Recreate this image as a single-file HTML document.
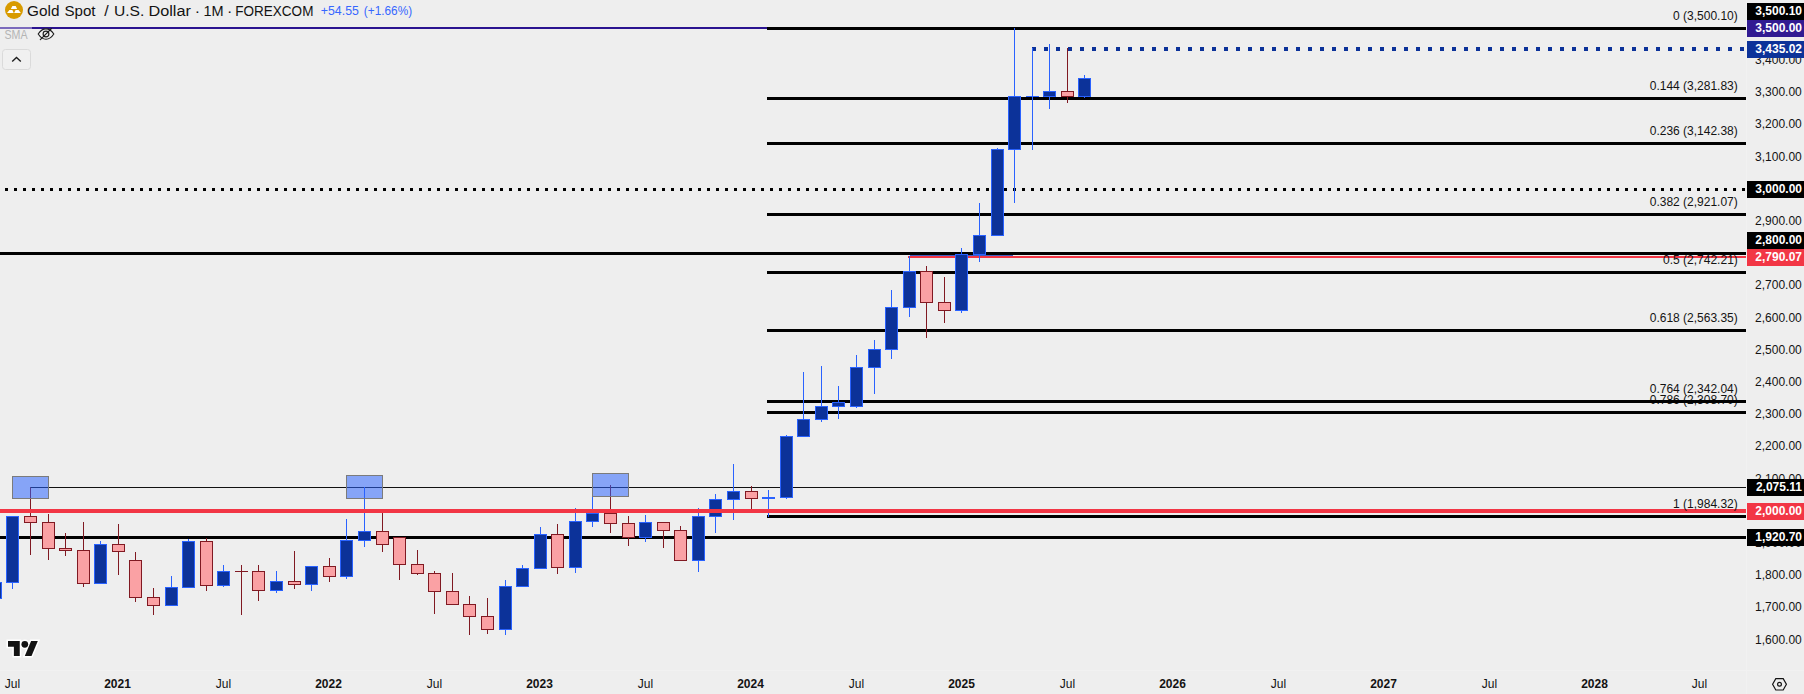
<!DOCTYPE html><html><head><meta charset="utf-8"><title>Gold Spot / U.S. Dollar</title>
<style>html,body{margin:0;padding:0;background:#eeeeee;overflow:hidden}
body{width:1804px;height:694px;position:relative;font-family:"Liberation Sans",sans-serif}
svg{position:absolute;left:0;top:0;display:block}
text{font-family:"Liberation Sans",sans-serif}
</style></head><body>
<svg width="1804" height="694" viewBox="0 0 1804 694">
<rect x="0" y="0" width="1804" height="694" fill="#eeeeee"/>
<g shape-rendering="crispEdges">
<rect x="0" y="27" width="767" height="2" fill="#2a1390"/>
<rect x="0" y="27" width="32" height="2" fill="#7c6bbd"/>
<rect x="767" y="27" width="979" height="3" fill="#000"/>
<rect x="767" y="97" width="979" height="3" fill="#000"/>
<rect x="767" y="142" width="979" height="3" fill="#000"/>
<rect x="767" y="213" width="979" height="3" fill="#000"/>
<rect x="767" y="271" width="979" height="3" fill="#000"/>
<rect x="767" y="329" width="979" height="3" fill="#000"/>
<rect x="767" y="400" width="979" height="3" fill="#000"/>
<rect x="767" y="411" width="979" height="3" fill="#000"/>
<rect x="767" y="515" width="979" height="3" fill="#000"/>
<rect x="5" y="188" width="3" height="3" fill="#000"/>
<rect x="14" y="188" width="3" height="3" fill="#000"/>
<rect x="23" y="188" width="3" height="3" fill="#000"/>
<rect x="32" y="188" width="3" height="3" fill="#000"/>
<rect x="41" y="188" width="3" height="3" fill="#000"/>
<rect x="50" y="188" width="3" height="3" fill="#000"/>
<rect x="59" y="188" width="3" height="3" fill="#000"/>
<rect x="68" y="188" width="3" height="3" fill="#000"/>
<rect x="77" y="188" width="3" height="3" fill="#000"/>
<rect x="86" y="188" width="3" height="3" fill="#000"/>
<rect x="95" y="188" width="3" height="3" fill="#000"/>
<rect x="104" y="188" width="3" height="3" fill="#000"/>
<rect x="113" y="188" width="3" height="3" fill="#000"/>
<rect x="122" y="188" width="3" height="3" fill="#000"/>
<rect x="131" y="188" width="3" height="3" fill="#000"/>
<rect x="140" y="188" width="3" height="3" fill="#000"/>
<rect x="149" y="188" width="3" height="3" fill="#000"/>
<rect x="158" y="188" width="3" height="3" fill="#000"/>
<rect x="167" y="188" width="3" height="3" fill="#000"/>
<rect x="176" y="188" width="3" height="3" fill="#000"/>
<rect x="185" y="188" width="3" height="3" fill="#000"/>
<rect x="194" y="188" width="3" height="3" fill="#000"/>
<rect x="203" y="188" width="3" height="3" fill="#000"/>
<rect x="212" y="188" width="3" height="3" fill="#000"/>
<rect x="221" y="188" width="3" height="3" fill="#000"/>
<rect x="230" y="188" width="3" height="3" fill="#000"/>
<rect x="239" y="188" width="3" height="3" fill="#000"/>
<rect x="248" y="188" width="3" height="3" fill="#000"/>
<rect x="257" y="188" width="3" height="3" fill="#000"/>
<rect x="266" y="188" width="3" height="3" fill="#000"/>
<rect x="275" y="188" width="3" height="3" fill="#000"/>
<rect x="284" y="188" width="3" height="3" fill="#000"/>
<rect x="293" y="188" width="3" height="3" fill="#000"/>
<rect x="302" y="188" width="3" height="3" fill="#000"/>
<rect x="311" y="188" width="3" height="3" fill="#000"/>
<rect x="320" y="188" width="3" height="3" fill="#000"/>
<rect x="329" y="188" width="3" height="3" fill="#000"/>
<rect x="338" y="188" width="3" height="3" fill="#000"/>
<rect x="347" y="188" width="3" height="3" fill="#000"/>
<rect x="356" y="188" width="3" height="3" fill="#000"/>
<rect x="365" y="188" width="3" height="3" fill="#000"/>
<rect x="374" y="188" width="3" height="3" fill="#000"/>
<rect x="383" y="188" width="3" height="3" fill="#000"/>
<rect x="392" y="188" width="3" height="3" fill="#000"/>
<rect x="401" y="188" width="3" height="3" fill="#000"/>
<rect x="410" y="188" width="3" height="3" fill="#000"/>
<rect x="419" y="188" width="3" height="3" fill="#000"/>
<rect x="428" y="188" width="3" height="3" fill="#000"/>
<rect x="437" y="188" width="3" height="3" fill="#000"/>
<rect x="446" y="188" width="3" height="3" fill="#000"/>
<rect x="455" y="188" width="3" height="3" fill="#000"/>
<rect x="464" y="188" width="3" height="3" fill="#000"/>
<rect x="473" y="188" width="3" height="3" fill="#000"/>
<rect x="482" y="188" width="3" height="3" fill="#000"/>
<rect x="491" y="188" width="3" height="3" fill="#000"/>
<rect x="500" y="188" width="3" height="3" fill="#000"/>
<rect x="509" y="188" width="3" height="3" fill="#000"/>
<rect x="518" y="188" width="3" height="3" fill="#000"/>
<rect x="527" y="188" width="3" height="3" fill="#000"/>
<rect x="536" y="188" width="3" height="3" fill="#000"/>
<rect x="545" y="188" width="3" height="3" fill="#000"/>
<rect x="554" y="188" width="3" height="3" fill="#000"/>
<rect x="563" y="188" width="3" height="3" fill="#000"/>
<rect x="572" y="188" width="3" height="3" fill="#000"/>
<rect x="581" y="188" width="3" height="3" fill="#000"/>
<rect x="590" y="188" width="3" height="3" fill="#000"/>
<rect x="599" y="188" width="3" height="3" fill="#000"/>
<rect x="608" y="188" width="3" height="3" fill="#000"/>
<rect x="617" y="188" width="3" height="3" fill="#000"/>
<rect x="626" y="188" width="3" height="3" fill="#000"/>
<rect x="635" y="188" width="3" height="3" fill="#000"/>
<rect x="644" y="188" width="3" height="3" fill="#000"/>
<rect x="653" y="188" width="3" height="3" fill="#000"/>
<rect x="662" y="188" width="3" height="3" fill="#000"/>
<rect x="671" y="188" width="3" height="3" fill="#000"/>
<rect x="680" y="188" width="3" height="3" fill="#000"/>
<rect x="689" y="188" width="3" height="3" fill="#000"/>
<rect x="698" y="188" width="3" height="3" fill="#000"/>
<rect x="707" y="188" width="3" height="3" fill="#000"/>
<rect x="716" y="188" width="3" height="3" fill="#000"/>
<rect x="725" y="188" width="3" height="3" fill="#000"/>
<rect x="734" y="188" width="3" height="3" fill="#000"/>
<rect x="743" y="188" width="3" height="3" fill="#000"/>
<rect x="752" y="188" width="3" height="3" fill="#000"/>
<rect x="761" y="188" width="3" height="3" fill="#000"/>
<rect x="770" y="188" width="3" height="3" fill="#000"/>
<rect x="779" y="188" width="3" height="3" fill="#000"/>
<rect x="788" y="188" width="3" height="3" fill="#000"/>
<rect x="797" y="188" width="3" height="3" fill="#000"/>
<rect x="806" y="188" width="3" height="3" fill="#000"/>
<rect x="815" y="188" width="3" height="3" fill="#000"/>
<rect x="824" y="188" width="3" height="3" fill="#000"/>
<rect x="833" y="188" width="3" height="3" fill="#000"/>
<rect x="842" y="188" width="3" height="3" fill="#000"/>
<rect x="851" y="188" width="3" height="3" fill="#000"/>
<rect x="860" y="188" width="3" height="3" fill="#000"/>
<rect x="869" y="188" width="3" height="3" fill="#000"/>
<rect x="878" y="188" width="3" height="3" fill="#000"/>
<rect x="887" y="188" width="3" height="3" fill="#000"/>
<rect x="896" y="188" width="3" height="3" fill="#000"/>
<rect x="905" y="188" width="3" height="3" fill="#000"/>
<rect x="914" y="188" width="3" height="3" fill="#000"/>
<rect x="923" y="188" width="3" height="3" fill="#000"/>
<rect x="932" y="188" width="3" height="3" fill="#000"/>
<rect x="941" y="188" width="3" height="3" fill="#000"/>
<rect x="950" y="188" width="3" height="3" fill="#000"/>
<rect x="959" y="188" width="3" height="3" fill="#000"/>
<rect x="968" y="188" width="3" height="3" fill="#000"/>
<rect x="977" y="188" width="3" height="3" fill="#000"/>
<rect x="986" y="188" width="3" height="3" fill="#000"/>
<rect x="995" y="188" width="3" height="3" fill="#000"/>
<rect x="1004" y="188" width="3" height="3" fill="#000"/>
<rect x="1013" y="188" width="3" height="3" fill="#000"/>
<rect x="1022" y="188" width="3" height="3" fill="#000"/>
<rect x="1031" y="188" width="3" height="3" fill="#000"/>
<rect x="1040" y="188" width="3" height="3" fill="#000"/>
<rect x="1049" y="188" width="3" height="3" fill="#000"/>
<rect x="1058" y="188" width="3" height="3" fill="#000"/>
<rect x="1067" y="188" width="3" height="3" fill="#000"/>
<rect x="1076" y="188" width="3" height="3" fill="#000"/>
<rect x="1085" y="188" width="3" height="3" fill="#000"/>
<rect x="1094" y="188" width="3" height="3" fill="#000"/>
<rect x="1103" y="188" width="3" height="3" fill="#000"/>
<rect x="1112" y="188" width="3" height="3" fill="#000"/>
<rect x="1121" y="188" width="3" height="3" fill="#000"/>
<rect x="1130" y="188" width="3" height="3" fill="#000"/>
<rect x="1139" y="188" width="3" height="3" fill="#000"/>
<rect x="1148" y="188" width="3" height="3" fill="#000"/>
<rect x="1157" y="188" width="3" height="3" fill="#000"/>
<rect x="1166" y="188" width="3" height="3" fill="#000"/>
<rect x="1175" y="188" width="3" height="3" fill="#000"/>
<rect x="1184" y="188" width="3" height="3" fill="#000"/>
<rect x="1193" y="188" width="3" height="3" fill="#000"/>
<rect x="1202" y="188" width="3" height="3" fill="#000"/>
<rect x="1211" y="188" width="3" height="3" fill="#000"/>
<rect x="1220" y="188" width="3" height="3" fill="#000"/>
<rect x="1229" y="188" width="3" height="3" fill="#000"/>
<rect x="1238" y="188" width="3" height="3" fill="#000"/>
<rect x="1247" y="188" width="3" height="3" fill="#000"/>
<rect x="1256" y="188" width="3" height="3" fill="#000"/>
<rect x="1265" y="188" width="3" height="3" fill="#000"/>
<rect x="1274" y="188" width="3" height="3" fill="#000"/>
<rect x="1283" y="188" width="3" height="3" fill="#000"/>
<rect x="1292" y="188" width="3" height="3" fill="#000"/>
<rect x="1301" y="188" width="3" height="3" fill="#000"/>
<rect x="1310" y="188" width="3" height="3" fill="#000"/>
<rect x="1319" y="188" width="3" height="3" fill="#000"/>
<rect x="1328" y="188" width="3" height="3" fill="#000"/>
<rect x="1337" y="188" width="3" height="3" fill="#000"/>
<rect x="1346" y="188" width="3" height="3" fill="#000"/>
<rect x="1355" y="188" width="3" height="3" fill="#000"/>
<rect x="1364" y="188" width="3" height="3" fill="#000"/>
<rect x="1373" y="188" width="3" height="3" fill="#000"/>
<rect x="1382" y="188" width="3" height="3" fill="#000"/>
<rect x="1391" y="188" width="3" height="3" fill="#000"/>
<rect x="1400" y="188" width="3" height="3" fill="#000"/>
<rect x="1409" y="188" width="3" height="3" fill="#000"/>
<rect x="1418" y="188" width="3" height="3" fill="#000"/>
<rect x="1427" y="188" width="3" height="3" fill="#000"/>
<rect x="1436" y="188" width="3" height="3" fill="#000"/>
<rect x="1445" y="188" width="3" height="3" fill="#000"/>
<rect x="1454" y="188" width="3" height="3" fill="#000"/>
<rect x="1463" y="188" width="3" height="3" fill="#000"/>
<rect x="1472" y="188" width="3" height="3" fill="#000"/>
<rect x="1481" y="188" width="3" height="3" fill="#000"/>
<rect x="1490" y="188" width="3" height="3" fill="#000"/>
<rect x="1499" y="188" width="3" height="3" fill="#000"/>
<rect x="1508" y="188" width="3" height="3" fill="#000"/>
<rect x="1517" y="188" width="3" height="3" fill="#000"/>
<rect x="1526" y="188" width="3" height="3" fill="#000"/>
<rect x="1535" y="188" width="3" height="3" fill="#000"/>
<rect x="1544" y="188" width="3" height="3" fill="#000"/>
<rect x="1553" y="188" width="3" height="3" fill="#000"/>
<rect x="1562" y="188" width="3" height="3" fill="#000"/>
<rect x="1571" y="188" width="3" height="3" fill="#000"/>
<rect x="1580" y="188" width="3" height="3" fill="#000"/>
<rect x="1589" y="188" width="3" height="3" fill="#000"/>
<rect x="1598" y="188" width="3" height="3" fill="#000"/>
<rect x="1607" y="188" width="3" height="3" fill="#000"/>
<rect x="1616" y="188" width="3" height="3" fill="#000"/>
<rect x="1625" y="188" width="3" height="3" fill="#000"/>
<rect x="1634" y="188" width="3" height="3" fill="#000"/>
<rect x="1643" y="188" width="3" height="3" fill="#000"/>
<rect x="1652" y="188" width="3" height="3" fill="#000"/>
<rect x="1661" y="188" width="3" height="3" fill="#000"/>
<rect x="1670" y="188" width="3" height="3" fill="#000"/>
<rect x="1679" y="188" width="3" height="3" fill="#000"/>
<rect x="1688" y="188" width="3" height="3" fill="#000"/>
<rect x="1697" y="188" width="3" height="3" fill="#000"/>
<rect x="1706" y="188" width="3" height="3" fill="#000"/>
<rect x="1715" y="188" width="3" height="3" fill="#000"/>
<rect x="1724" y="188" width="3" height="3" fill="#000"/>
<rect x="1733" y="188" width="3" height="3" fill="#000"/>
<rect x="1742" y="188" width="3" height="3" fill="#000"/>
<rect x="0" y="252" width="1746" height="3" fill="#000"/>
<rect x="0" y="536" width="1746" height="3" fill="#000"/>
<rect x="30" y="487" width="1716" height="1" fill="#111"/>
<rect x="908" y="256" width="838" height="2" fill="#f23645"/>
<rect x="910" y="255" width="103" height="1" fill="#3f5fc4"/>
<rect x="1032" y="47" width="4" height="4" fill="#0c3299"/>
<rect x="1044" y="47" width="4" height="4" fill="#0c3299"/>
<rect x="1056" y="47" width="4" height="4" fill="#0c3299"/>
<rect x="1068" y="47" width="4" height="4" fill="#0c3299"/>
<rect x="1080" y="47" width="4" height="4" fill="#0c3299"/>
<rect x="1092" y="47" width="4" height="4" fill="#0c3299"/>
<rect x="1104" y="47" width="4" height="4" fill="#0c3299"/>
<rect x="1116" y="47" width="4" height="4" fill="#0c3299"/>
<rect x="1128" y="47" width="4" height="4" fill="#0c3299"/>
<rect x="1140" y="47" width="4" height="4" fill="#0c3299"/>
<rect x="1152" y="47" width="4" height="4" fill="#0c3299"/>
<rect x="1164" y="47" width="4" height="4" fill="#0c3299"/>
<rect x="1176" y="47" width="4" height="4" fill="#0c3299"/>
<rect x="1188" y="47" width="4" height="4" fill="#0c3299"/>
<rect x="1200" y="47" width="4" height="4" fill="#0c3299"/>
<rect x="1212" y="47" width="4" height="4" fill="#0c3299"/>
<rect x="1224" y="47" width="4" height="4" fill="#0c3299"/>
<rect x="1236" y="47" width="4" height="4" fill="#0c3299"/>
<rect x="1248" y="47" width="4" height="4" fill="#0c3299"/>
<rect x="1260" y="47" width="4" height="4" fill="#0c3299"/>
<rect x="1272" y="47" width="4" height="4" fill="#0c3299"/>
<rect x="1284" y="47" width="4" height="4" fill="#0c3299"/>
<rect x="1296" y="47" width="4" height="4" fill="#0c3299"/>
<rect x="1308" y="47" width="4" height="4" fill="#0c3299"/>
<rect x="1320" y="47" width="4" height="4" fill="#0c3299"/>
<rect x="1332" y="47" width="4" height="4" fill="#0c3299"/>
<rect x="1344" y="47" width="4" height="4" fill="#0c3299"/>
<rect x="1356" y="47" width="4" height="4" fill="#0c3299"/>
<rect x="1368" y="47" width="4" height="4" fill="#0c3299"/>
<rect x="1380" y="47" width="4" height="4" fill="#0c3299"/>
<rect x="1392" y="47" width="4" height="4" fill="#0c3299"/>
<rect x="1404" y="47" width="4" height="4" fill="#0c3299"/>
<rect x="1416" y="47" width="4" height="4" fill="#0c3299"/>
<rect x="1428" y="47" width="4" height="4" fill="#0c3299"/>
<rect x="1440" y="47" width="4" height="4" fill="#0c3299"/>
<rect x="1452" y="47" width="4" height="4" fill="#0c3299"/>
<rect x="1464" y="47" width="4" height="4" fill="#0c3299"/>
<rect x="1476" y="47" width="4" height="4" fill="#0c3299"/>
<rect x="1488" y="47" width="4" height="4" fill="#0c3299"/>
<rect x="1500" y="47" width="4" height="4" fill="#0c3299"/>
<rect x="1512" y="47" width="4" height="4" fill="#0c3299"/>
<rect x="1524" y="47" width="4" height="4" fill="#0c3299"/>
<rect x="1536" y="47" width="4" height="4" fill="#0c3299"/>
<rect x="1548" y="47" width="4" height="4" fill="#0c3299"/>
<rect x="1560" y="47" width="4" height="4" fill="#0c3299"/>
<rect x="1572" y="47" width="4" height="4" fill="#0c3299"/>
<rect x="1584" y="47" width="4" height="4" fill="#0c3299"/>
<rect x="1596" y="47" width="4" height="4" fill="#0c3299"/>
<rect x="1608" y="47" width="4" height="4" fill="#0c3299"/>
<rect x="1620" y="47" width="4" height="4" fill="#0c3299"/>
<rect x="1632" y="47" width="4" height="4" fill="#0c3299"/>
<rect x="1644" y="47" width="4" height="4" fill="#0c3299"/>
<rect x="1656" y="47" width="4" height="4" fill="#0c3299"/>
<rect x="1668" y="47" width="4" height="4" fill="#0c3299"/>
<rect x="1680" y="47" width="4" height="4" fill="#0c3299"/>
<rect x="1692" y="47" width="4" height="4" fill="#0c3299"/>
<rect x="1704" y="47" width="4" height="4" fill="#0c3299"/>
<rect x="1716" y="47" width="4" height="4" fill="#0c3299"/>
<rect x="1728" y="47" width="4" height="4" fill="#0c3299"/>
<rect x="1740" y="47" width="4" height="4" fill="#0c3299"/>
<rect x="-5" y="582" width="1" height="17" fill="#2962ff"/>
<rect x="-11" y="582" width="13" height="17" fill="#2962ff"/>
<rect x="-10" y="583" width="11" height="15" fill="#0c3299"/>
<rect x="12" y="516" width="1" height="73" fill="#2962ff"/>
<rect x="6" y="516" width="13" height="67" fill="#2962ff"/>
<rect x="7" y="517" width="11" height="65" fill="#0c3299"/>
<rect x="30" y="487" width="1" height="68" fill="#801922"/>
<rect x="24" y="516" width="13" height="7" fill="#801922"/>
<rect x="25" y="517" width="11" height="5" fill="#faa1a4"/>
<rect x="48" y="514" width="1" height="46" fill="#801922"/>
<rect x="42" y="522" width="13" height="27" fill="#801922"/>
<rect x="43" y="523" width="11" height="25" fill="#faa1a4"/>
<rect x="65" y="533" width="1" height="23" fill="#801922"/>
<rect x="59" y="548" width="13" height="3" fill="#801922"/>
<rect x="60" y="549" width="11" height="1" fill="#faa1a4"/>
<rect x="83" y="522" width="1" height="65" fill="#801922"/>
<rect x="77" y="550" width="13" height="34" fill="#801922"/>
<rect x="78" y="551" width="11" height="32" fill="#faa1a4"/>
<rect x="100" y="541" width="1" height="43" fill="#2962ff"/>
<rect x="94" y="544" width="13" height="40" fill="#2962ff"/>
<rect x="95" y="545" width="11" height="38" fill="#0c3299"/>
<rect x="118" y="524" width="1" height="51" fill="#801922"/>
<rect x="112" y="544" width="13" height="8" fill="#801922"/>
<rect x="113" y="545" width="11" height="6" fill="#faa1a4"/>
<rect x="135" y="552" width="1" height="50" fill="#801922"/>
<rect x="129" y="560" width="13" height="38" fill="#801922"/>
<rect x="130" y="561" width="11" height="36" fill="#faa1a4"/>
<rect x="153" y="588" width="1" height="27" fill="#801922"/>
<rect x="147" y="597" width="13" height="9" fill="#801922"/>
<rect x="148" y="598" width="11" height="7" fill="#faa1a4"/>
<rect x="171" y="576" width="1" height="30" fill="#2962ff"/>
<rect x="165" y="587" width="13" height="19" fill="#2962ff"/>
<rect x="166" y="588" width="11" height="17" fill="#0c3299"/>
<rect x="188" y="539" width="1" height="49" fill="#2962ff"/>
<rect x="182" y="541" width="13" height="47" fill="#2962ff"/>
<rect x="183" y="542" width="11" height="45" fill="#0c3299"/>
<rect x="206" y="538" width="1" height="53" fill="#801922"/>
<rect x="200" y="541" width="13" height="45" fill="#801922"/>
<rect x="201" y="542" width="11" height="43" fill="#faa1a4"/>
<rect x="223" y="565" width="1" height="22" fill="#2962ff"/>
<rect x="217" y="571" width="13" height="15" fill="#2962ff"/>
<rect x="218" y="572" width="11" height="13" fill="#0c3299"/>
<rect x="241" y="565" width="1" height="50" fill="#801922"/>
<rect x="235" y="571" width="13" height="1" fill="#801922"/>
<rect x="258" y="565" width="1" height="36" fill="#801922"/>
<rect x="252" y="571" width="13" height="20" fill="#801922"/>
<rect x="253" y="572" width="11" height="18" fill="#faa1a4"/>
<rect x="276" y="571" width="1" height="22" fill="#2962ff"/>
<rect x="270" y="581" width="13" height="10" fill="#2962ff"/>
<rect x="271" y="582" width="11" height="8" fill="#0c3299"/>
<rect x="294" y="551" width="1" height="38" fill="#801922"/>
<rect x="288" y="581" width="13" height="4" fill="#801922"/>
<rect x="289" y="582" width="11" height="2" fill="#faa1a4"/>
<rect x="311" y="566" width="1" height="25" fill="#2962ff"/>
<rect x="305" y="566" width="13" height="19" fill="#2962ff"/>
<rect x="306" y="567" width="11" height="17" fill="#0c3299"/>
<rect x="329" y="558" width="1" height="24" fill="#801922"/>
<rect x="323" y="566" width="13" height="11" fill="#801922"/>
<rect x="324" y="567" width="11" height="9" fill="#faa1a4"/>
<rect x="346" y="519" width="1" height="60" fill="#2962ff"/>
<rect x="340" y="540" width="13" height="37" fill="#2962ff"/>
<rect x="341" y="541" width="11" height="35" fill="#0c3299"/>
<rect x="364" y="487" width="1" height="60" fill="#2962ff"/>
<rect x="358" y="531" width="13" height="10" fill="#2962ff"/>
<rect x="359" y="532" width="11" height="8" fill="#0c3299"/>
<rect x="382" y="512" width="1" height="40" fill="#801922"/>
<rect x="376" y="531" width="13" height="14" fill="#801922"/>
<rect x="377" y="532" width="11" height="12" fill="#faa1a4"/>
<rect x="399" y="537" width="1" height="43" fill="#801922"/>
<rect x="393" y="537" width="13" height="28" fill="#801922"/>
<rect x="394" y="538" width="11" height="26" fill="#faa1a4"/>
<rect x="417" y="550" width="1" height="25" fill="#801922"/>
<rect x="411" y="564" width="13" height="10" fill="#801922"/>
<rect x="412" y="565" width="11" height="8" fill="#faa1a4"/>
<rect x="434" y="571" width="1" height="43" fill="#801922"/>
<rect x="428" y="573" width="13" height="19" fill="#801922"/>
<rect x="429" y="574" width="11" height="17" fill="#faa1a4"/>
<rect x="452" y="573" width="1" height="32" fill="#801922"/>
<rect x="446" y="591" width="13" height="14" fill="#801922"/>
<rect x="447" y="592" width="11" height="12" fill="#faa1a4"/>
<rect x="469" y="596" width="1" height="39" fill="#801922"/>
<rect x="463" y="604" width="13" height="13" fill="#801922"/>
<rect x="464" y="605" width="11" height="11" fill="#faa1a4"/>
<rect x="487" y="598" width="1" height="36" fill="#801922"/>
<rect x="481" y="616" width="13" height="14" fill="#801922"/>
<rect x="482" y="617" width="11" height="12" fill="#faa1a4"/>
<rect x="505" y="580" width="1" height="55" fill="#2962ff"/>
<rect x="499" y="586" width="13" height="44" fill="#2962ff"/>
<rect x="500" y="587" width="11" height="42" fill="#0c3299"/>
<rect x="522" y="565" width="1" height="22" fill="#2962ff"/>
<rect x="516" y="568" width="13" height="19" fill="#2962ff"/>
<rect x="517" y="569" width="11" height="17" fill="#0c3299"/>
<rect x="540" y="527" width="1" height="42" fill="#2962ff"/>
<rect x="534" y="534" width="13" height="35" fill="#2962ff"/>
<rect x="535" y="535" width="11" height="33" fill="#0c3299"/>
<rect x="557" y="524" width="1" height="50" fill="#801922"/>
<rect x="551" y="534" width="13" height="34" fill="#801922"/>
<rect x="552" y="535" width="11" height="32" fill="#faa1a4"/>
<rect x="575" y="508" width="1" height="65" fill="#2962ff"/>
<rect x="569" y="521" width="13" height="47" fill="#2962ff"/>
<rect x="570" y="522" width="11" height="45" fill="#0c3299"/>
<rect x="592" y="495" width="1" height="32" fill="#2962ff"/>
<rect x="586" y="513" width="13" height="9" fill="#2962ff"/>
<rect x="587" y="514" width="11" height="7" fill="#0c3299"/>
<rect x="610" y="485" width="1" height="48" fill="#801922"/>
<rect x="604" y="513" width="13" height="11" fill="#801922"/>
<rect x="605" y="514" width="11" height="9" fill="#faa1a4"/>
<rect x="628" y="516" width="1" height="30" fill="#801922"/>
<rect x="622" y="523" width="13" height="15" fill="#801922"/>
<rect x="623" y="524" width="11" height="13" fill="#faa1a4"/>
<rect x="645" y="515" width="1" height="27" fill="#2962ff"/>
<rect x="639" y="522" width="13" height="16" fill="#2962ff"/>
<rect x="640" y="523" width="11" height="14" fill="#0c3299"/>
<rect x="663" y="522" width="1" height="26" fill="#801922"/>
<rect x="657" y="522" width="13" height="9" fill="#801922"/>
<rect x="658" y="523" width="11" height="7" fill="#faa1a4"/>
<rect x="680" y="526" width="1" height="35" fill="#801922"/>
<rect x="674" y="530" width="13" height="31" fill="#801922"/>
<rect x="675" y="531" width="11" height="29" fill="#faa1a4"/>
<rect x="698" y="508" width="1" height="64" fill="#2962ff"/>
<rect x="692" y="516" width="13" height="45" fill="#2962ff"/>
<rect x="693" y="517" width="11" height="43" fill="#0c3299"/>
<rect x="715" y="494" width="1" height="39" fill="#2962ff"/>
<rect x="709" y="499" width="13" height="18" fill="#2962ff"/>
<rect x="710" y="500" width="11" height="16" fill="#0c3299"/>
<rect x="733" y="464" width="1" height="56" fill="#2962ff"/>
<rect x="727" y="491" width="13" height="9" fill="#2962ff"/>
<rect x="728" y="492" width="11" height="7" fill="#0c3299"/>
<rect x="751" y="486" width="1" height="25" fill="#801922"/>
<rect x="745" y="491" width="13" height="8" fill="#801922"/>
<rect x="746" y="492" width="11" height="6" fill="#faa1a4"/>
<rect x="768" y="490" width="1" height="27" fill="#2962ff"/>
<rect x="762" y="497" width="13" height="2" fill="#2962ff"/>
<rect x="786" y="435" width="1" height="64" fill="#2962ff"/>
<rect x="780" y="436" width="13" height="62" fill="#2962ff"/>
<rect x="781" y="437" width="11" height="60" fill="#0c3299"/>
<rect x="803" y="372" width="1" height="65" fill="#2962ff"/>
<rect x="797" y="419" width="13" height="18" fill="#2962ff"/>
<rect x="798" y="420" width="11" height="16" fill="#0c3299"/>
<rect x="821" y="366" width="1" height="56" fill="#2962ff"/>
<rect x="815" y="406" width="13" height="14" fill="#2962ff"/>
<rect x="816" y="407" width="11" height="12" fill="#0c3299"/>
<rect x="838" y="386" width="1" height="33" fill="#2962ff"/>
<rect x="832" y="402" width="13" height="5" fill="#2962ff"/>
<rect x="833" y="403" width="11" height="3" fill="#0c3299"/>
<rect x="856" y="355" width="1" height="53" fill="#2962ff"/>
<rect x="850" y="367" width="13" height="40" fill="#2962ff"/>
<rect x="851" y="368" width="11" height="38" fill="#0c3299"/>
<rect x="874" y="340" width="1" height="54" fill="#2962ff"/>
<rect x="868" y="349" width="13" height="19" fill="#2962ff"/>
<rect x="869" y="350" width="11" height="17" fill="#0c3299"/>
<rect x="891" y="290" width="1" height="69" fill="#2962ff"/>
<rect x="885" y="307" width="13" height="43" fill="#2962ff"/>
<rect x="886" y="308" width="11" height="41" fill="#0c3299"/>
<rect x="909" y="256" width="1" height="61" fill="#2962ff"/>
<rect x="903" y="271" width="13" height="37" fill="#2962ff"/>
<rect x="904" y="272" width="11" height="35" fill="#0c3299"/>
<rect x="926" y="266" width="1" height="72" fill="#801922"/>
<rect x="920" y="271" width="13" height="32" fill="#801922"/>
<rect x="921" y="272" width="11" height="30" fill="#faa1a4"/>
<rect x="944" y="277" width="1" height="46" fill="#801922"/>
<rect x="938" y="302" width="13" height="9" fill="#801922"/>
<rect x="939" y="303" width="11" height="7" fill="#faa1a4"/>
<rect x="961" y="248" width="1" height="65" fill="#2962ff"/>
<rect x="955" y="254" width="13" height="57" fill="#2962ff"/>
<rect x="956" y="255" width="11" height="55" fill="#0c3299"/>
<rect x="979" y="203" width="1" height="59" fill="#2962ff"/>
<rect x="973" y="235" width="13" height="20" fill="#2962ff"/>
<rect x="974" y="236" width="11" height="18" fill="#0c3299"/>
<rect x="997" y="148" width="1" height="88" fill="#2962ff"/>
<rect x="991" y="149" width="13" height="87" fill="#2962ff"/>
<rect x="992" y="150" width="11" height="85" fill="#0c3299"/>
<rect x="1014" y="28" width="1" height="175" fill="#2962ff"/>
<rect x="1008" y="96" width="13" height="54" fill="#2962ff"/>
<rect x="1009" y="97" width="11" height="52" fill="#0c3299"/>
<rect x="1032" y="48" width="1" height="102" fill="#2962ff"/>
<rect x="1026" y="96" width="13" height="1" fill="#2962ff"/>
<rect x="1049" y="44" width="1" height="65" fill="#2962ff"/>
<rect x="1043" y="91" width="13" height="6" fill="#2962ff"/>
<rect x="1044" y="92" width="11" height="4" fill="#0c3299"/>
<rect x="1067" y="48" width="1" height="55" fill="#801922"/>
<rect x="1061" y="91" width="13" height="6" fill="#801922"/>
<rect x="1062" y="92" width="11" height="4" fill="#faa1a4"/>
<rect x="1084" y="75" width="1" height="23" fill="#2962ff"/>
<rect x="1078" y="78" width="13" height="19" fill="#2962ff"/>
<rect x="1079" y="79" width="11" height="17" fill="#0c3299"/>
<rect x="0" y="509" width="1746" height="4" fill="#f23645"/>
<rect x="12.5" y="476.5" width="36" height="22" fill="rgba(41,98,255,0.53)" stroke="#7b7b7b" stroke-width="1"/>
<rect x="346.5" y="475.5" width="36" height="23" fill="rgba(41,98,255,0.53)" stroke="#7b7b7b" stroke-width="1"/>
<rect x="592.5" y="473.5" width="36" height="23" fill="rgba(41,98,255,0.53)" stroke="#7b7b7b" stroke-width="1"/>
<rect x="1746" y="0" width="58" height="694" fill="#eeeeee"/>
<rect x="1746" y="0" width="1" height="694" fill="#f1f1f1"/>
<rect x="0" y="670" width="1804" height="1" fill="#f1f1f1"/>
</g>
<text x="1737.8" y="19.5" text-anchor="end" font-size="12" fill="#131313">0 (3,500.10)</text>
<text x="1737.8" y="89.5" text-anchor="end" font-size="12" fill="#131313">0.144 (3,281.83)</text>
<text x="1737.8" y="134.5" text-anchor="end" font-size="12" fill="#131313">0.236 (3,142.38)</text>
<text x="1737.8" y="205.5" text-anchor="end" font-size="12" fill="#131313">0.382 (2,921.07)</text>
<text x="1737.8" y="263.5" text-anchor="end" font-size="12" fill="#131313">0.5 (2,742.21)</text>
<text x="1737.8" y="321.5" text-anchor="end" font-size="12" fill="#131313">0.618 (2,563.35)</text>
<text x="1737.8" y="392.5" text-anchor="end" font-size="12" fill="#131313">0.764 (2,342.04)</text>
<text x="1737.8" y="403.5" text-anchor="end" font-size="12" fill="#131313">0.786 (2,308.70)</text>
<text x="1737.8" y="507.5" text-anchor="end" font-size="12" fill="#131313">1 (1,984.32)</text>
<rect x="1640" y="400" width="106" height="3" fill="#000" shape-rendering="crispEdges"/>
<text x="1801.8" y="643.5" text-anchor="end" font-size="12" fill="#131313">1,600.00</text>
<text x="1801.8" y="611.3" text-anchor="end" font-size="12" fill="#131313">1,700.00</text>
<text x="1801.8" y="579.1" text-anchor="end" font-size="12" fill="#131313">1,800.00</text>
<text x="1801.8" y="546.9" text-anchor="end" font-size="12" fill="#131313">1,900.00</text>
<text x="1801.8" y="514.7" text-anchor="end" font-size="12" fill="#131313">2,000.00</text>
<text x="1801.8" y="482.5" text-anchor="end" font-size="12" fill="#131313">2,100.00</text>
<text x="1801.8" y="450.3" text-anchor="end" font-size="12" fill="#131313">2,200.00</text>
<text x="1801.8" y="418.1" text-anchor="end" font-size="12" fill="#131313">2,300.00</text>
<text x="1801.8" y="385.9" text-anchor="end" font-size="12" fill="#131313">2,400.00</text>
<text x="1801.8" y="353.7" text-anchor="end" font-size="12" fill="#131313">2,500.00</text>
<text x="1801.8" y="321.5" text-anchor="end" font-size="12" fill="#131313">2,600.00</text>
<text x="1801.8" y="289.3" text-anchor="end" font-size="12" fill="#131313">2,700.00</text>
<text x="1801.8" y="257.1" text-anchor="end" font-size="12" fill="#131313">2,800.00</text>
<text x="1801.8" y="224.9" text-anchor="end" font-size="12" fill="#131313">2,900.00</text>
<text x="1801.8" y="192.7" text-anchor="end" font-size="12" fill="#131313">3,000.00</text>
<text x="1801.8" y="160.5" text-anchor="end" font-size="12" fill="#131313">3,100.00</text>
<text x="1801.8" y="128.3" text-anchor="end" font-size="12" fill="#131313">3,200.00</text>
<text x="1801.8" y="96.1" text-anchor="end" font-size="12" fill="#131313">3,300.00</text>
<text x="1801.8" y="63.9" text-anchor="end" font-size="12" fill="#131313">3,400.00</text>
<text x="1801.8" y="31.7" text-anchor="end" font-size="12" fill="#131313">3,500.00</text>
<rect x="1747" y="3" width="57" height="17" fill="#000" shape-rendering="crispEdges"/>
<text x="1802" y="14.7" text-anchor="end" font-size="12" font-weight="bold" fill="#fff">3,500.10</text>
<rect x="1747" y="20" width="57" height="17" fill="#311b92" shape-rendering="crispEdges"/>
<text x="1802" y="31.7" text-anchor="end" font-size="12" font-weight="bold" fill="#fff">3,500.00</text>
<rect x="1747" y="41" width="57" height="17" fill="#0c3299" shape-rendering="crispEdges"/>
<text x="1802" y="52.7" text-anchor="end" font-size="12" font-weight="bold" fill="#fff">3,435.02</text>
<rect x="1747" y="181" width="57" height="17" fill="#000" shape-rendering="crispEdges"/>
<text x="1802" y="192.7" text-anchor="end" font-size="12" font-weight="bold" fill="#fff">3,000.00</text>
<rect x="1747" y="232" width="57" height="17" fill="#000" shape-rendering="crispEdges"/>
<text x="1802" y="243.7" text-anchor="end" font-size="12" font-weight="bold" fill="#fff">2,800.00</text>
<rect x="1747" y="249" width="57" height="17" fill="#f23645" shape-rendering="crispEdges"/>
<text x="1802" y="260.7" text-anchor="end" font-size="12" font-weight="bold" fill="#fff">2,790.07</text>
<rect x="1747" y="479" width="57" height="17" fill="#000" shape-rendering="crispEdges"/>
<text x="1802" y="490.7" text-anchor="end" font-size="12" font-weight="bold" fill="#fff">2,075.11</text>
<rect x="1747" y="503" width="57" height="17" fill="#f23645" shape-rendering="crispEdges"/>
<text x="1802" y="514.7" text-anchor="end" font-size="12" font-weight="bold" fill="#fff">2,000.00</text>
<rect x="1747" y="529" width="57" height="17" fill="#000" shape-rendering="crispEdges"/>
<text x="1802" y="540.7" text-anchor="end" font-size="12" font-weight="bold" fill="#fff">1,920.70</text>
<text x="12.5" y="688" text-anchor="middle" font-size="12" fill="#131313">Jul</text>
<text x="117.5" y="688" text-anchor="middle" font-size="12" font-weight="bold" fill="#131313">2021</text>
<text x="223.5" y="688" text-anchor="middle" font-size="12" fill="#131313">Jul</text>
<text x="328.5" y="688" text-anchor="middle" font-size="12" font-weight="bold" fill="#131313">2022</text>
<text x="434.5" y="688" text-anchor="middle" font-size="12" fill="#131313">Jul</text>
<text x="539.5" y="688" text-anchor="middle" font-size="12" font-weight="bold" fill="#131313">2023</text>
<text x="645.5" y="688" text-anchor="middle" font-size="12" fill="#131313">Jul</text>
<text x="750.5" y="688" text-anchor="middle" font-size="12" font-weight="bold" fill="#131313">2024</text>
<text x="856.5" y="688" text-anchor="middle" font-size="12" fill="#131313">Jul</text>
<text x="961.5" y="688" text-anchor="middle" font-size="12" font-weight="bold" fill="#131313">2025</text>
<text x="1067.5" y="688" text-anchor="middle" font-size="12" fill="#131313">Jul</text>
<text x="1172.5" y="688" text-anchor="middle" font-size="12" font-weight="bold" fill="#131313">2026</text>
<text x="1278.5" y="688" text-anchor="middle" font-size="12" fill="#131313">Jul</text>
<text x="1383.5" y="688" text-anchor="middle" font-size="12" font-weight="bold" fill="#131313">2027</text>
<text x="1489.5" y="688" text-anchor="middle" font-size="12" fill="#131313">Jul</text>
<text x="1594.5" y="688" text-anchor="middle" font-size="12" font-weight="bold" fill="#131313">2028</text>
<text x="1699.5" y="688" text-anchor="middle" font-size="12" fill="#131313">Jul</text>
<g fill="none" stroke="#131313" stroke-width="1.2"><path d="M1772.6 684.3L1775.8 678.6H1783.2L1786.4 684.3L1783.2 690H1775.8Z"/><circle cx="1779.5" cy="684.3" r="1.9"/></g>
<g transform="translate(8,637.6) scale(0.84)"><g stroke="#fff" stroke-width="3.6" stroke-linejoin="miter" fill="#fff"><path d="M14 22H7V11H0V4h14v18z"/><path d="M28 22h-8l7.5-18h8L28 22z"/><circle cx="20" cy="8" r="4"/></g><g fill="#131313"><path d="M14 22H7V11H0V4h14v18z"/><path d="M28 22h-8l7.5-18h8L28 22z"/><circle cx="20" cy="8" r="4"/></g></g>
<circle cx="14" cy="10" r="9" fill="#d89b00"/>
<g fill="#fff"><path d="M12.4 6h3.3l1.4 2.9h-6.2z"/><path d="M9.4 10h3l1.3 3h-6.7z"/><path d="M15.6 10h2.9l2.4 3h-6.8z"/></g>
<text x="27.12" y="15.8" font-size="15.3" fill="#131313" textLength="32.38" lengthAdjust="spacingAndGlyphs">Gold</text>
<text x="64.43" y="15.8" font-size="15.3" fill="#131313" textLength="31.09" lengthAdjust="spacingAndGlyphs">Spot</text>
<text x="104.3" y="15.8" font-size="15.3" fill="#131313" textLength="4.45" lengthAdjust="spacingAndGlyphs">/</text>
<text x="113.9" y="15.8" font-size="15.3" fill="#131313" textLength="30.39" lengthAdjust="spacingAndGlyphs">U.S.</text>
<text x="148.47" y="15.8" font-size="15.3" fill="#131313" textLength="42.45" lengthAdjust="spacingAndGlyphs">Dollar</text>
<text x="194.7" y="15.8" font-size="15.3" fill="#131313" textLength="5.33" lengthAdjust="spacingAndGlyphs">·</text>
<text x="203.5" y="15.8" font-size="15.3" fill="#131313" textLength="20.16" lengthAdjust="spacingAndGlyphs">1M</text>
<text x="226.9" y="15.8" font-size="15.3" fill="#131313" textLength="5.33" lengthAdjust="spacingAndGlyphs">·</text>
<text x="235.25" y="15.8" font-size="15.3" fill="#131313" textLength="78.15" lengthAdjust="spacingAndGlyphs">FOREXCOM</text>
<text x="320.78" y="15" font-size="13" fill="#3667ff" textLength="38.09" lengthAdjust="spacingAndGlyphs">+54.55</text>
<text x="363.83" y="15" font-size="13" fill="#3667ff" textLength="48.25" lengthAdjust="spacingAndGlyphs">(+1.66%)</text>
<text x="4.5" y="38.8" font-size="12" fill="#b4b4b4" textLength="23.1" lengthAdjust="spacingAndGlyphs">SMA</text>
<g fill="none" stroke="#1e1e1e" stroke-width="1.15" stroke-linecap="round"><path d="M38.200 34C40.600 30.300 43.200 28.800 46 28.800s5.400 1.500 7.800 5.200C51.400 37.700 48.800 39.200 46 39.200s-5.400-1.500-7.800-5.200z" fill="#f3f3f3"/><circle cx="46" cy="34" r="2.900"/><path d="M40.300 39.600L51.500 28.500"/></g>
<rect x="2.5" y="49.5" width="28" height="20" rx="3" ry="3" fill="#f0f0f0" stroke="#dadada" stroke-width="1"/>
<path d="M12.2 61.400L16.5 57.500L20.800 61.400" fill="none" stroke="#1c1c1c" stroke-width="1.400"/>
</svg></body></html>
